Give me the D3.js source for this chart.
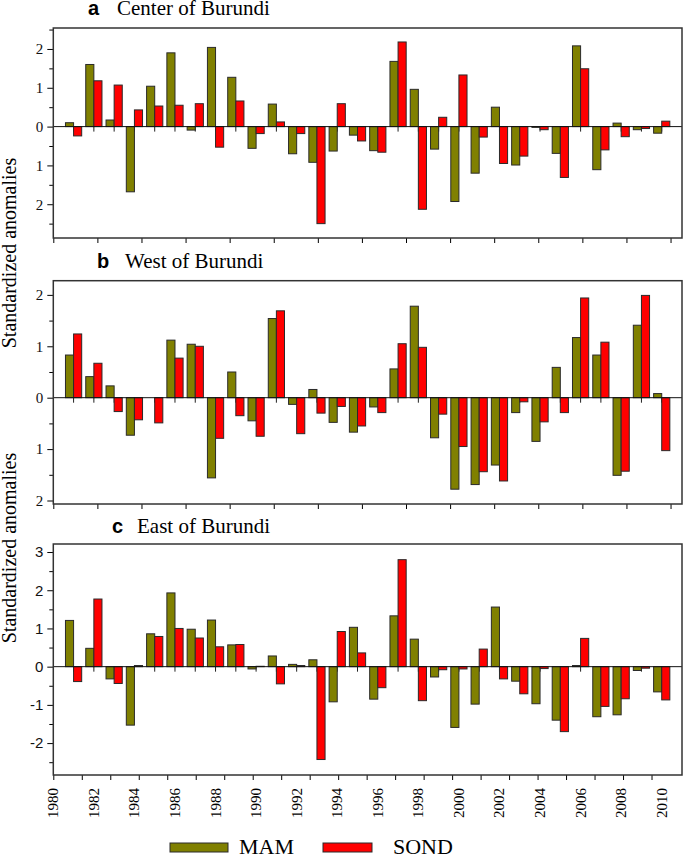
<!DOCTYPE html>
<html>
<head>
<meta charset="utf-8">
<script src="https://cdn.jsdelivr.net/npm/d3@7"></script>
<style>
  body { margin: 0; background: #fff; }
</style>
</head>
<body>
<svg id="chart" width="685" height="856"></svg>
<script>
// years shown as bar pairs
var years = [1981,1982,1983,1984,1985,1986,1987,1988,1989,1990,
             1991,1992,1993,1994,1995,1996,1997,1998,1999,2000,
             2001,2002,2003,2004,2005,2006,2007,2008,2009,2010];

// a - Center of Burundi
var mamCenter  = [0.10,1.60,0.17,-1.68,1.04,1.90,-0.09,2.04,1.27,-0.56,
                  0.58,-0.70,-0.92,-0.63,-0.22,-0.62,1.68,0.96,-0.58,-1.93,
                  -1.20,0.50,-0.99,-0.02,-0.69,2.08,-1.11,0.09,-0.08,-0.17];
var sondCenter = [-0.24,1.18,1.07,0.43,0.53,0.55,0.59,-0.53,0.66,-0.18,
                  0.12,-0.18,-2.50,0.59,-0.37,-0.66,2.18,-2.13,0.24,1.33,
                  -0.27,-0.95,-0.76,-0.08,-1.31,1.49,-0.60,-0.26,-0.05,0.14];

// b - West of Burundi
var mamWest  = [0.83,0.41,0.23,-0.73,0.00,1.12,1.04,-1.56,0.50,-0.45,
                1.54,-0.13,0.16,-0.48,-0.67,-0.18,0.56,1.78,-0.78,-1.78,
                -1.69,-1.31,-0.29,-0.85,0.59,1.17,0.83,-1.51,1.41,0.08];
var sondWest = [1.24,0.67,-0.27,-0.43,-0.49,0.77,1.00,-0.79,-0.35,-0.75,
                1.69,-0.70,-0.30,-0.17,-0.55,-0.29,1.05,0.98,-0.32,-0.95,
                -1.44,-1.62,-0.08,-0.47,-0.29,1.94,1.08,-1.43,1.99,-1.03];

// c - East of Burundi
var mamEast  = [1.21,0.48,-0.32,-1.53,0.86,1.93,0.98,1.22,0.57,-0.06,
                0.28,0.06,0.18,-0.92,1.03,-0.85,1.33,0.72,-0.27,-1.59,
                -0.98,1.56,-0.38,-0.97,-1.40,0.03,-1.31,-1.26,-0.10,-0.66];
var sondEast = [-0.39,1.77,-0.44,0.03,0.79,1.00,0.75,0.52,0.58,0.01,
                -0.45,0.03,-2.43,0.92,0.36,-0.55,2.80,-0.89,-0.08,-0.06,
                0.46,-0.32,-0.71,-0.05,-1.70,0.74,-1.04,-0.84,-0.04,-0.87];

var yearLabels = [1980,1982,1984,1986,1988,1990,1992,1994,1996,1998,2000,2002,2004,2006,2008,2010];
var seriesNames = ["MAM","SOND"];
var colors = {MAM: "#808000", SOND: "#ff0000"};

var serif = "Liberation Serif";
var sans = "Liberation Sans";

var left = 53.3, right = 682;
var x = d3.scaleLinear().domain([1980, 2011]).range([left, right]);
var bw = (x(1981) - x(1980)) * 0.4;

var panels = [
  {letter:"a", title:"Center of Burundi", mam:mamCenter, sond:sondCenter,
   top:28, bottom:238, domain:[-2.87, 2.54], major:[-2,-1,0,1,2], minor:[-2.5,-1.5,-0.5,0.5,1.5,2.5],
   fmt:function(d){ return Math.abs(d); }, font:serif, titleY:15, letterX:88, titleX:117,
   nTicks:14.26, tickCount:14},
  {letter:"b", title:"West of Burundi", mam:mamWest, sond:sondWest,
   top:280.7, bottom:504, domain:[-2.068, 2.276], major:[-2,-1,0,1,2], minor:[-1.5,-0.5,0.5,1.5],
   fmt:function(d){ return Math.abs(d); }, font:serif, titleY:268, letterX:97, titleX:125,
   nTicks:14.26, tickCount:14},
  {letter:"c", title:"East of Burundi", mam:mamEast, sond:sondEast,
   top:544, bottom:775, domain:[-2.835, 3.21], major:[-2,-1,0,1,2,3], minor:[-2.5,-1.5,-0.5,0.5,1.5,2.5],
   fmt:function(d){ return String(d); }, font:sans, titleY:533, letterX:112, titleX:137,
   nTicks:22.07, tickCount:21}
];

var svg = d3.select("#chart");

panels.forEach(function(p) {
  var y = d3.scaleLinear().domain(p.domain).range([p.bottom, p.top]);
  var g = svg.append("g");

  // title
  g.append("text").attr("x", p.letterX).attr("y", p.titleY)
    .attr("font-family", sans).attr("font-weight", "bold").attr("font-size", 20)
    .text(p.letter);
  g.append("text").attr("x", p.titleX).attr("y", p.titleY)
    .attr("font-family", serif).attr("font-size", 21).text(p.title);

  // y axis, major + minor
  var yAx = g.append("g").attr("transform", "translate(" + left + ",0)")
    .call(d3.axisLeft(y).tickValues(p.major).tickSize(6).tickPadding(4).tickFormat(p.fmt));
  yAx.select(".domain").remove();
  yAx.attr("font-family", p.font).attr("font-size", 15);
  yAx.selectAll("text").attr("fill", "#111");
  var yMin = g.append("g").attr("transform", "translate(" + left + ",0)")
    .call(d3.axisLeft(y).tickValues(p.minor).tickSize(4).tickFormat(""));
  yMin.select(".domain").remove();

  // bottom ticks (not aligned to years in the original)
  var xt = d3.scaleLinear().domain([0, p.nTicks]).range([left, right]);
  var xAx = g.append("g").attr("transform", "translate(0," + p.bottom + ")")
    .call(d3.axisBottom(xt).tickValues(d3.range(0, p.tickCount + 1)).tickSize(5).tickFormat(""));
  xAx.select(".domain").remove();

  // small ticks under the zero line at each year
  g.append("g").selectAll("line").data(years).enter().append("line")
    .attr("x1", function(d){ return x(d); }).attr("x2", function(d){ return x(d); })
    .attr("y1", y(0)).attr("y2", y(0) + 5)
    .attr("stroke", "#222").attr("stroke-width", 1);

  // bars
  var rows = years.map(function(yr, i){ return {year: yr, MAM: p.mam[i], SOND: p.sond[i]}; });
  seriesNames.forEach(function(s, si) {
    g.append("g").selectAll("rect").data(rows).enter().append("rect")
      .attr("x", function(d){ return x(d.year) - bw + si * bw; })
      .attr("width", bw)
      .attr("y", function(d){ return y(Math.max(0, d[s])); })
      .attr("height", function(d){ return Math.abs(y(d[s]) - y(0)); })
      .attr("fill", colors[s])
      .attr("stroke", "#2a2a2a").attr("stroke-width", 1);
  });

  // zero line
  g.append("line").attr("x1", left).attr("x2", right)
    .attr("y1", y(0)).attr("y2", y(0)).attr("stroke", "#111").attr("stroke-width", 1);

  // frame
  g.append("rect").attr("x", left).attr("y", p.top)
    .attr("width", right - left).attr("height", p.bottom - p.top)
    .attr("fill", "none").attr("stroke", "#333").attr("stroke-width", 1.5);
});

// year labels under the last panel
svg.append("g").selectAll("text").data(yearLabels).enter().append("text")
  .attr("transform", function(d){ return "translate(" + (x(d) + 5) + ",788) rotate(-90)"; })
  .attr("text-anchor", "end")
  .attr("font-family", serif).attr("font-size", 15)
  .text(function(d){ return d; });

// y axis titles
[253, 548].forEach(function(cy) {
  svg.append("text")
    .attr("transform", "translate(16," + cy + ") rotate(-90)")
    .attr("text-anchor", "middle")
    .attr("font-family", serif).attr("font-size", 20)
    .text("Standardized anomalies");
});

// legend
var legX = [170, 323], legTextX = [239, 393];
seriesNames.forEach(function(s, i) {
  svg.append("rect").attr("x", legX[i]).attr("y", 843).attr("width", s == "MAM" ? 58 : 49).attr("height", 9)
    .attr("fill", colors[s]).attr("stroke", "#2a2a2a").attr("stroke-width", 1);
  svg.append("text").attr("x", legTextX[i]).attr("y", 854)
    .attr("font-family", serif).attr("font-size", 22).text(s);
});
</script>
</body>
</html>
